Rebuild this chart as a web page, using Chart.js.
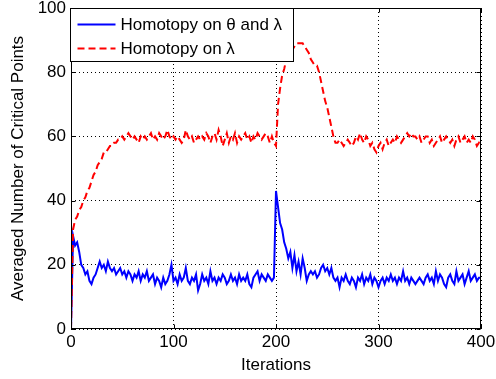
<!DOCTYPE html>
<html><head><meta charset="utf-8">
<script src="https://cdn.jsdelivr.net/npm/chart.js@4"></script>
<style>html,body{margin:0;padding:0;background:#fff}canvas{display:block}</style>
</head><body>
<canvas id="c" width="496" height="379"></canvas>
<script>
// x positions (iterations), sampled every 2 iterations from 0 to 400
const iterations = Array.from({length: 201}, (_, i) => i * 2);

const seriesLabels = ['Homotopy on \u03b8 and \u03bb', 'Homotopy on \u03bb'];

const blueValues = [
  0,29,26,27,24,20,19,17,18,15,
  14,16,17,19,21,19,20,18,21,19,
  18,19,17,18,19,17,18,16,18,17,
  15,17,16,18,15,17,16,18,15,16,
  17,14,16,15,13,16,14,15,17,20,
  15,16,14,17,15,16,19,15,14,16,
  15,17,12,14,17,15,16,14,18,15,
  16,14,16,15,17,16,14,15,17,15,
  16,14,17,15,16,15,17,14,13,16,
  17,18,15,17,16,15,17,16,15,16,
  43,38,33,31,27,25,22,24,19,23,
  18,21,17,22,19,15,17,18,17,18,
  16,17,19,20,18,19,17,19,16,15,
  16,13,16,15,17,15,14,16,15,13,
  16,15,17,14,16,15,17,14,16,15,
  13,15,16,14,16,15,17,15,16,14,
  16,15,18,15,16,14,16,15,14,15,
  16,15,14,16,17,15,16,14,18,15,
  17,16,14,13,16,17,15,14,18,15,
  16,17,14,16,18,15,16,17,15,16,
  16
];

const redValues = [
  0,31,34,35,37,38,40,41,43,44,
  46,48,49,51,52,53,55,55,56,57,
  57,58,58,59,59,60,59,60,61,60,
  59,60,59,58,60,59,60,59,60,61,
  59,60,59,61,60,59,60,62,60,59,
  60,59,60,59,58,59,62,60,59,60,
  58,59,60,59,60,59,61,60,58,60,
  61,59,62,60,57,59,61,58,60,59,
  61,58,60,59,60,61,59,60,58,60,
  59,61,60,59,60,61,60,58,60,58,
  57,70,75,79,81,84,85,86,87,88,
  89,89,89,89,88,87,86,84,83,82,
  82,80,77,74,71,69,66,63,60,58,
  58,59,58,57,58,59,58,57,58,60,
  59,61,59,58,60,59,57,58,56,55,
  57,58,56,58,59,57,58,59,58,60,
  59,58,59,60,61,60,61,60,60,59,
  60,58,59,60,60,58,59,57,58,59,
  60,58,59,60,59,58,59,57,59,60,
  58,59,60,58,59,58,60,59,57,58,
  57
];

const xTicks = [0, 100, 200, 300, 400];
const yTicks = [0, 20, 40, 60, 80, 100];

const FONT = '"Liberation Sans", Arial, sans-serif';
const FS = 17;

const toPoints = vals => iterations.map((x, i) => ({x, y: vals[i]}));

const framePlugin = {
  id: 'frame',
  afterDatasetsDraw(chart) {
    const {ctx, scales: {x, y}} = chart;
    const L = Math.round(x.getPixelForValue(0)) + 0.5;
    const R = Math.round(x.getPixelForValue(400)) - 0.5;
    const T = Math.round(y.getPixelForValue(100)) + 0.5;
    const B = Math.round(y.getPixelForValue(0)) - 0.5;
    ctx.save();
    ctx.strokeStyle = '#000';
    ctx.lineWidth = 1;
    ctx.setLineDash([]);
    ctx.strokeRect(L, T, R - L, B - T);
    ctx.beginPath();
    const tl = 4;
    xTicks.forEach(v => {
      const p = Math.round(x.getPixelForValue(v)) + 0.5;
      ctx.moveTo(p, B); ctx.lineTo(p, B - tl);
      ctx.moveTo(p, T); ctx.lineTo(p, T + tl);
    });
    yTicks.forEach(v => {
      const p = Math.round(y.getPixelForValue(v)) + 0.5;
      ctx.moveTo(L, p); ctx.lineTo(L + tl, p);
      ctx.moveTo(R, p); ctx.lineTo(R - tl, p);
    });
    ctx.stroke();

    // legend
    const lx = L - 1, ly = T, lw = 223, lh = 53;
    ctx.fillStyle = '#fff';
    ctx.fillRect(lx, ly, lw, lh);
    ctx.strokeRect(lx, ly, lw, lh);
    const ds = chart.data.datasets;
    const rows = [ly + 16, ly + 40];
    ctx.font = FS + 'px ' + FONT;
    ctx.textBaseline = 'middle';
    ctx.textAlign = 'left';
    ds.forEach((d, i) => {
      const yy = rows[i];
      ctx.save();
      ctx.strokeStyle = d.borderColor;
      ctx.lineWidth = d.borderWidth;
      ctx.setLineDash(d.borderDash || []);
      ctx.beginPath();
      ctx.moveTo(lx + 7, yy);
      ctx.lineTo(lx + 45, yy);
      ctx.stroke();
      ctx.restore();
      ctx.fillStyle = '#000';
      ctx.fillText(d.label, lx + 50, yy + 1);
    });
    ctx.restore();
  }
};

new Chart(document.getElementById('c'), {
  type: 'line',
  data: {
    datasets: [
      {
        label: seriesLabels[0],
        data: toPoints(blueValues),
        borderColor: '#0000ff',
        borderWidth: 2,
        pointRadius: 0,
        tension: 0,
        fill: false,
        order: 2
      },
      {
        label: seriesLabels[1],
        data: toPoints(redValues),
        borderColor: '#ff0000',
        borderWidth: 2,
        borderDash: [7, 4],
        pointRadius: 0,
        tension: 0,
        fill: false,
        order: 1
      }
    ]
  },
  options: {
    responsive: false,
    animation: false,
    devicePixelRatio: 1,
    layout: {padding: {top: 8, right: 15, left: 0, bottom: 0}},
    plugins: {legend: {display: false}, tooltip: {enabled: false}},
    scales: {
      x: {
        type: 'linear',
        min: 0, max: 400,
        afterBuildTicks: s => { s.ticks = xTicks.map(v => ({value: v})); },
        afterFit: s => { s.height = 50; s.paddingLeft = 0; s.paddingRight = 0; },
        ticks: {color: '#000', font: {family: FONT, size: FS}, padding: 3, maxRotation: 0},
        grid: {color: '#000', lineWidth: 1, drawTicks: false},
        border: {display: false, dash: [1, 3]},
        title: {display: true, text: 'Iterations', color: '#000', font: {family: FONT, size: FS}, padding: {top: 0, bottom: 3}}
      },
      y: {
        type: 'linear',
        min: 0, max: 100,
        afterBuildTicks: s => { s.ticks = yTicks.map(v => ({value: v})); },
        afterFit: s => { s.width = 71; s.paddingTop = 0; s.paddingBottom = 0; },
        ticks: {color: '#000', font: {family: FONT, size: FS}, padding: 5},
        grid: {color: '#000', lineWidth: 1, drawTicks: false},
        border: {display: false, dash: [1, 3]},
        title: {display: true, text: 'Averaged Number of Critical Points', color: '#000', font: {family: FONT, size: FS}, padding: {top: 8, bottom: 0}}
      }
    }
  },
  plugins: [framePlugin]
});
</script>
</body></html>
